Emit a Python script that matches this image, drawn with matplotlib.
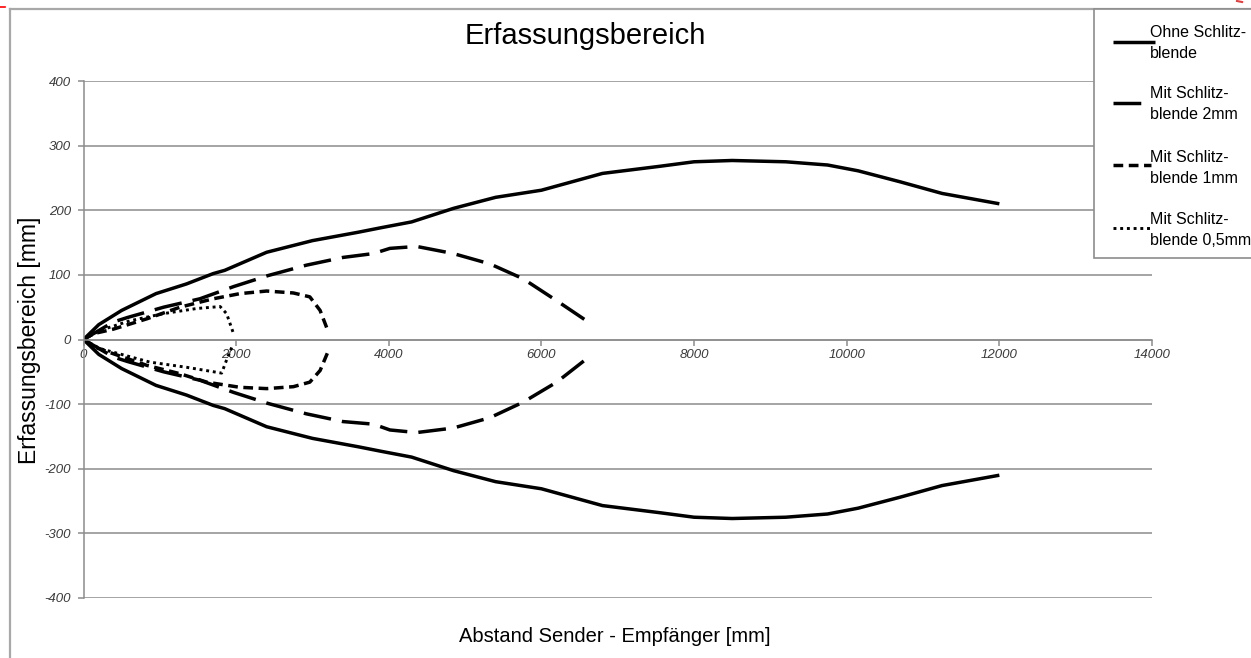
import matplotlib
matplotlib.use("Agg")
import matplotlib.pyplot as plt
import numpy as np
from matplotlib.lines import Line2D
from matplotlib.patches import Rectangle

plt.rcParams['font.family'] = ['Liberation Sans', 'DejaVu Sans']
plt.rcParams['axes.unicode_minus'] = False

# ---- data (upper and lower branch of each detection range) ----
x_ohne = [0, 200, 500, 950, 1350, 1700, 1850, 2400, 3000, 3600, 3900, 4300, 4850, 5400,
          6000, 6400, 6800, 7550, 8000, 8500, 9200, 9750, 10150, 10700, 11250, 12000]
y_ohne_up = [0, 23, 45, 71, 86, 102, 107, 135, 153, 166, 173, 182, 203, 220,
             231, 244, 257, 268, 275, 277, 275, 270, 261, 244, 226, 210]
y_ohne_lo = [-v for v in y_ohne_up]

x_2mm = [0, 390, 575, 1050, 1525, 1970, 2420, 2920, 3400, 3800, 4015, 4365, 4845, 5325, 5760, 6200, 6590]
y_2mm_up = [0, 27, 34, 50, 63, 82, 99, 115, 127, 133, 141, 144, 133, 117, 94, 60, 29]
y_2mm_lo = [0, -27, -34, -50, -63, -82, -99, -115, -127, -131, -140, -144, -137, -121, -97, -66, -30]

x_1mm_up = [0, 130, 390, 830, 1265, 1700, 2050, 2400, 2750, 2965, 3100, 3210]
y_1mm_up = [0, 9, 16, 32, 50, 63, 71, 75, 72, 66, 45, 11]
x_1mm_lo = [0, 130, 390, 830, 1265, 1615, 2050, 2400, 2750, 2965, 3100, 3210]
y_1mm_lo = [0, -11, -22, -40, -53, -66, -74, -76, -73, -66, -48, -17]

x_05_up = [0, 215, 610, 1045, 1485, 1790, 1875, 1960]
y_05_up = [0, 14, 29, 40, 48, 51, 40, 11]
x_05_lo = [0, 215, 870, 1350, 1810, 1880, 1950]
y_05_lo = [0, -14, -35, -43, -52, -30, -10]

x_ticks = [0, 2000, 4000, 6000, 8000, 10000, 12000, 14000]
y_ticks = [-400, -300, -200, -100, 0, 100, 200, 300, 400]

labels = ["Ohne Schlitz-\nblende", "Mit Schlitz-\nblende 2mm",
          "Mit Schlitz-\nblende 1mm", "Mit Schlitz-\nblende 0,5mm"]

W, H = 1251, 658
fig = plt.figure(figsize=(W / 100, H / 100), dpi=100)
fig.patch.set_facecolor('white')

def fx(px):
    return px / W

def fy(py):
    return 1 - py / H

ax = fig.add_axes([fx(83.5), fy(598), fx(1152) - fx(83.5), fy(81) - fy(598)])
ax.set_xlim(0, 14000)
ax.set_ylim(-400, 400)

grid_c = '#8c8c8c'
ax.set_yticks(y_ticks)
ax.set_xticks(x_ticks)
ax.yaxis.grid(True, color=grid_c, linewidth=1.1)
ax.set_axisbelow(True)
for s in ['top', 'right']:
    ax.spines[s].set_visible(False)
ax.spines['left'].set_color(grid_c)
ax.spines['left'].set_linewidth(1.1)
ax.spines['bottom'].set_position(('data', 0))
ax.spines['bottom'].set_color(grid_c)
ax.spines['bottom'].set_linewidth(1.1)
ax.tick_params(axis='both', colors=grid_c, length=4, width=1.1, direction='out')
ax.tick_params(axis='x', pad=3)
ax.tick_params(axis='y', pad=5)
for lab in ax.get_xticklabels() + ax.get_yticklabels():
    lab.set_fontstyle('italic')
    lab.set_fontsize(9.5)
    lab.set_color('#3a3a3a')

lw = 2.5
long_dash = (0, (8.0, 3.2))
short_dash = (0, (2.8, 1.6))
dots = (0, (1.0, 1.3))

kw = dict(color='black', solid_joinstyle='round', dash_joinstyle='round')
ax.plot(x_ohne, y_ohne_up, lw=lw, solid_capstyle='butt', **kw)
ax.plot(x_ohne, y_ohne_lo, lw=lw, solid_capstyle='butt', **kw)
ax.plot(x_2mm, y_2mm_up, lw=lw, linestyle=long_dash, **kw)
ax.plot(x_2mm, y_2mm_lo, lw=lw, linestyle=long_dash, **kw)
ax.plot(x_1mm_up, y_1mm_up, lw=lw, linestyle=short_dash, **kw)
ax.plot(x_1mm_lo, y_1mm_lo, lw=lw, linestyle=short_dash, **kw)
ax.plot(x_05_up, y_05_up, lw=2.1, linestyle=dots, **kw)
ax.plot(x_05_lo, y_05_lo, lw=2.1, linestyle=dots, **kw)

# titles / labels
fig.text(fx(585), fy(36), "Erfassungsbereich", ha='center', va='center', fontsize=21)
fig.text(fx(615), fy(636), "Abstand Sender - Empfänger [mm]", ha='center', va='center', fontsize=14.5)
fig.text(fx(30), fy(340), "Erfassungsbereich [mm]", ha='center', va='center',
         rotation=90, fontsize=16.5)

# outer frame
frame_c = '#a8a8a8'
fig.add_artist(Line2D([fx(10), fx(10)], [fy(9), fy(660)], color=frame_c, lw=1.6))
fig.add_artist(Line2D([fx(10), fx(1260)], [fy(9), fy(9)], color=frame_c, lw=1.6))
fig.add_artist(Line2D([fx(0), fx(5)], [fy(7), fy(7)], color='red', lw=1.2))
fig.add_artist(Line2D([fx(1237), fx(1242)], [fy(1), fy(2)], color='#e04040', lw=1.5))

# legend
fig.add_artist(Rectangle((fx(1094), fy(258)), fx(1300) - fx(1094), fy(9) - fy(258),
                         facecolor='white', edgecolor='#8c8c8c', lw=1.2, zorder=5))
styles = [dict(ls='-', lw=lw), dict(ls=long_dash, lw=lw),
          dict(ls=short_dash, lw=lw), dict(ls=dots, lw=2.1)]
sample_x = [(1113, 1155), (1113, 1142), (1113, 1151), (1113, 1153)]
sample_y = [42, 103, 165, 228]
text_y = [43, 104, 168, 230]
for lab, st, sx, sy, ty in zip(labels, styles, sample_x, sample_y, text_y):
    fig.add_artist(Line2D([fx(sx[0]), fx(sx[1])], [fy(sy), fy(sy)], color='black',
                          zorder=6, solid_capstyle='butt', **st))
    fig.text(fx(1150), fy(ty), lab, ha='left', va='center', fontsize=11.5,
             linespacing=1.45, zorder=7)

fig.savefig("out.png", dpi=100)
